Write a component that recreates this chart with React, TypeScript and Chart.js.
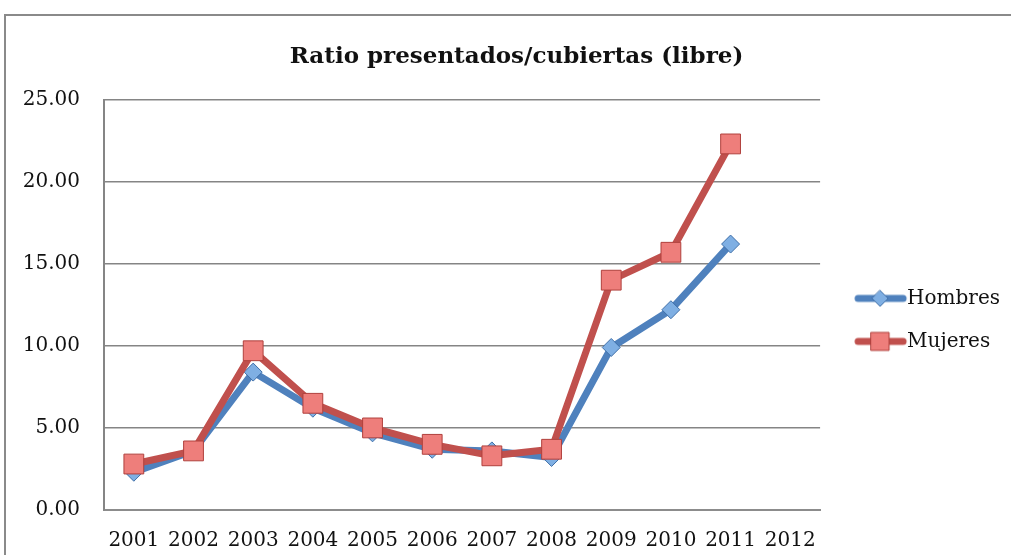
import React, { useEffect, useRef } from "react";
import { Chart, registerables } from "chart.js";

Chart.register(...registerables);

const years = ["2001", "2002", "2003", "2004", "2005", "2006", "2007", "2008", "2009", "2010", "2011", "2012"];
const hombres = [2.3, 3.6, 8.4, 6.2, 4.7, 3.7, 3.6, 3.2, 9.9, 12.2, 16.2, null];
const mujeres = [2.8, 3.6, 9.7, 6.5, 5.0, 4.0, 3.3, 3.7, 14.0, 15.7, 22.3, null];
const yTicks = [0, 5, 10, 15, 20, 25];
const titleText = "Ratio presentados/cubiertas (libre)";

const BLUE = "#4F81BD";
const RED = "#C0504D";
const FONT = "'DejaVu Serif', serif";

function legendImage(line: string, fill: string, border: string, kind: "diamond" | "square") {
  const c = document.createElement("canvas");
  c.width = 76;
  c.height = 24;
  const ctx = c.getContext("2d")!;
  ctx.strokeStyle = line;
  ctx.lineWidth = 7;
  ctx.lineCap = "round";
  ctx.beginPath();
  ctx.moveTo(26, 12);
  ctx.lineTo(71, 12);
  ctx.stroke();
  const cx = 48;
  ctx.fillStyle = fill;
  ctx.strokeStyle = border;
  ctx.lineWidth = 1;
  ctx.beginPath();
  if (kind === "diamond") {
    ctx.moveTo(cx, 4);
    ctx.lineTo(cx + 8, 12);
    ctx.lineTo(cx, 20);
    ctx.lineTo(cx - 8, 12);
    ctx.closePath();
  } else {
    ctx.rect(cx - 9, 3, 18, 18);
  }
  ctx.fill();
  ctx.stroke();
  return c;
}

export default function App() {
  const ref = useRef<HTMLCanvasElement>(null);
  useEffect(() => {
    const canvas = ref.current!;
    const imgH = legendImage(BLUE, "#7FAFE3", "#3F6FA8", "diamond");
    const imgM = legendImage(RED, "#EE7E7B", "#B0403D", "square");
    const chart = new Chart(canvas, {
      type: "line",
      data: {
        labels: years,
        datasets: [
          {
            label: "Hombres",
            data: hombres,
            borderColor: BLUE,
            backgroundColor: "#7FAFE3",
            borderWidth: 7,
            pointStyle: "rectRot",
            pointRadius: 9,
            pointBorderColor: "#3F6FA8",
            pointBorderWidth: 1,
            pointBackgroundColor: "#7FAFE3",
            order: 2,
            spanGaps: false,
          },
          {
            label: "Mujeres",
            data: mujeres,
            borderColor: RED,
            backgroundColor: "#EE7E7B",
            borderWidth: 7,
            pointStyle: "rect",
            pointRadius: 14,
            pointBorderColor: "#B0403D",
            pointBorderWidth: 1,
            pointBackgroundColor: "#EE7E7B",
            order: 1,
            spanGaps: false,
          },
        ],
      },
      options: {
        responsive: false,
        animation: false,
        layout: { padding: { top: 43, left: 23, right: 20, bottom: 3 } },
        plugins: {
          tooltip: { enabled: false },
          title: {
            display: true,
            text: titleText,
            color: "#111",
            font: { family: FONT, size: 23, weight: "bold" },
            padding: { top: 0, bottom: 29 },
          },
          legend: {
            position: "right",
            title: { display: true, text: " ", font: { size: 4 }, padding: { top: 0, bottom: 40 } },
            labels: {
              usePointStyle: true,
              pointStyleWidth: 54,
              boxHeight: 18,
              padding: 23,
              color: "#111",
              font: { family: FONT, size: 20 },
              generateLabels: (c) =>
                c.data.datasets.map((ds, i) => ({
                  text: ds.label as string,
                  pointStyle: i === 0 ? imgH : imgM,
                  fillStyle: "transparent",
                  strokeStyle: "transparent",
                  lineWidth: 0,
                  hidden: false,
                  datasetIndex: i,
                  fontColor: "#111",
                })),
            },
          },
        },
        scales: {
          x: {
            offset: true,
            grid: { display: false, drawTicks: false },
            border: { display: true, color: "#8c8c8c", width: 2 },
            ticks: { color: "#111", padding: 19, maxRotation: 0, autoSkip: false, font: { family: FONT, size: 20 } },
            afterFit: (s) => {
              s.height = 42;
            },
          },
          y: {
            min: 0,
            max: 25,
            afterBuildTicks: (s) => {
              s.ticks = yTicks.map((v) => ({ value: v }));
            },
            afterFit: (s) => {
              s.width = 81;
            },
            grid: { color: "#858585", lineWidth: 1.6, drawTicks: false },
            border: { display: true, color: "#858585", width: 2 },
            ticks: {
              color: "#111",
              padding: 24,
              font: { family: FONT, size: 20 },
              callback: (v) => Number(v).toFixed(2),
            },
          },
        },
      },
    });
    return () => chart.destroy();
  }, []);
  return (
    <div style={{ position: "fixed", left: 0, top: 0, width: 1011, height: 555, overflow: "hidden", background: "#fff" }}>
      <div
        style={{
          position: "absolute",
          left: 4,
          top: 14,
          width: 1200,
          height: 800,
          borderLeft: "2px solid #8a8a8a",
          borderTop: "2px solid #8a8a8a",
        }}
      />
      <canvas ref={ref} width={1030} height={555} style={{ position: "absolute", left: 0, top: 0 }} />
    </div>
  );
}
